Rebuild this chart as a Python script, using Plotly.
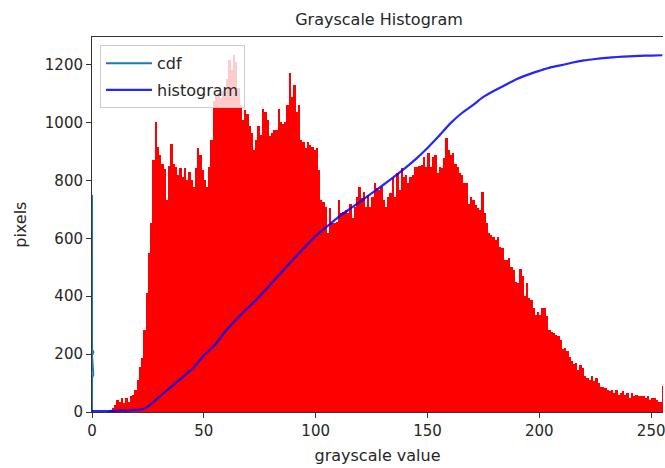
import numpy as np
import plotly.graph_objects as go

# ---------------- data ----------------
bins = list(range(256))
hist_counts = [
    0, 0, 0, 0, 0, 0, 0, 2, 6, 14, 25, 42, 36, 48, 30, 48, 36, 54, 59, 77,
    111, 157, 186, 284, 410, 549, 652, 870, 1000, 916, 887, 858, 840, 732, 850, 927, 858, 845, 818, 841,
    812, 841, 801, 830, 801, 778, 841, 910, 887, 836, 801, 778, 847, 939, 1075, 1090, 1100, 1085, 1110, 1105,
    1150, 1215, 1180, 1232, 1210, 1120, 1061, 1008, 1042, 1030, 986, 962, 904, 939, 986, 958, 1048, 1036, 1008, 952,
    962, 974, 974, 1048, 1000, 995, 1000, 1060, 1169, 1088, 1129, 1037, 1060, 939, 933, 910, 933, 921, 916, 904,
    910, 835, 732, 726, 709, 617, 703, 652, 652, 657, 732, 686, 692, 697, 686, 720, 669, 709, 743, 778,
    738, 761, 709, 749, 709, 743, 790, 772, 767, 778, 732, 709, 743, 755, 807, 743, 824, 767, 841, 812,
    818, 790, 812, 818, 847, 847, 850, 853, 881, 847, 893, 847, 881, 887, 824, 847, 841, 876, 945, 904,
    887, 893, 858, 847, 824, 818, 790, 790, 720, 743, 732, 715, 703, 697, 761, 686, 652, 617, 611, 606,
    594, 606, 571, 565, 525, 525, 531, 502, 490, 450, 444, 494, 471, 399, 444, 394, 388, 358, 336, 347,
    336, 358, 358, 330, 284, 278, 273, 267, 261, 250, 218, 221, 212, 189, 175, 166, 169, 146, 163, 152,
    123, 117, 111, 123, 106, 117, 100, 88, 88, 82, 77, 71, 77, 65, 77, 60, 65, 71, 60, 65,
    48, 65, 54, 60, 54, 54, 54, 48, 54, 42, 48, 48, 42, 35, 35, 90,
]

cdf_x = [0, 5, 10, 15, 20, 22, 24, 26, 28, 30, 35, 40, 45, 50, 55, 60, 65, 70, 75, 80,
         85, 90, 95, 100, 105, 110, 115, 120, 125, 130, 135, 140, 145, 150, 155, 160, 165, 170, 175, 180,
         185, 190, 195, 200, 205, 210, 215, 220, 225, 230, 235, 240, 245, 250, 255]
cdf_y = [3, 3, 4, 5, 7, 9, 14, 25, 38, 52, 84, 117, 150, 195, 232, 282, 324, 362, 400, 442,
         485, 527, 568, 608, 640, 672, 700, 727, 755, 783, 812, 842, 875, 912, 952, 995, 1030, 1058, 1088, 1110,
         1130, 1150, 1165, 1178, 1190, 1198, 1207, 1214, 1219, 1223, 1226, 1228, 1230, 1231, 1232]

spike_x = [0, 0, 0.6, 0, 0.6, 0, 0]
spike_y = [0, 118, 128, 196, 206, 216, 749]

x_ticks = [0, 50, 100, 150, 200, 250]
y_ticks = [0, 200, 400, 600, 800, 1000, 1200]

# ---------------- figure ----------------
FONT = "DejaVu Sans"
TXT = "#262626"
fig = go.Figure()

fig.add_trace(go.Bar(
    x=np.array(bins) + 0.5, y=hist_counts, width=1.1,
    marker=dict(color="#ff0000", line=dict(width=0)),
    showlegend=False, hoverinfo="skip",
))
fig.add_trace(go.Scatter(
    x=spike_x, y=spike_y, mode="lines", name="cdf",
    line=dict(color="#1f77b4", width=2), legendgroup="a",
))
fig.add_trace(go.Scatter(
    x=cdf_x, y=cdf_y, mode="lines", name="histogram",
    line=dict(color="#0000ff", width=2.2, shape="spline", smoothing=0.6),
    opacity=0.85, legendgroup="b",
))

fig.update_layout(
    width=665, height=468,
    margin=dict(l=92, r=0, t=37, b=56),
    paper_bgcolor="white", plot_bgcolor="white",
    font=dict(family=FONT, size=15, color=TXT),
    bargap=0,
    title=dict(text="Grayscale Histogram", x=(92 + 287) / 665, xanchor="center",
               y=1 - 19 / 468, yanchor="middle", font=dict(size=16, family=FONT, color=TXT)),
    legend=dict(x=0.014, y=0.978, xanchor="left", yanchor="top",
                bgcolor="rgba(255,255,255,0.8)", bordercolor="#cccccc", borderwidth=1,
                font=dict(size=16, family=FONT, color=TXT),
                itemwidth=46,
                traceorder="grouped", tracegroupgap=3),
    xaxis=dict(range=[0, 255.3], tickmode="array", tickvals=x_ticks,
               ticks="outside", ticklen=5, tickwidth=1, tickcolor="#333333",
               ticklabeloverflow="allow",
               tickfont=dict(size=15),
               showline=True, linecolor="#333333", linewidth=1, mirror=True,
               showgrid=False, zeroline=False,
               title=dict(text="grayscale value", font=dict(size=16), standoff=10)),
    yaxis=dict(range=[0, 1295], tickmode="array", tickvals=y_ticks,
               ticks="outside", ticklen=5, tickwidth=1, tickcolor="#333333",
               tickfont=dict(size=15),
               showline=True, linecolor="#333333", linewidth=1, mirror=False,
               showgrid=False, zeroline=False),
    annotations=[dict(text="pixels", textangle=-90, xref="paper", yref="paper",
                      x=(20 - 92) / 573, y=0.5, xanchor="center", yanchor="middle",
                      showarrow=False, font=dict(size=16, family=FONT, color=TXT))],
)

fig.write_html("out.html")
